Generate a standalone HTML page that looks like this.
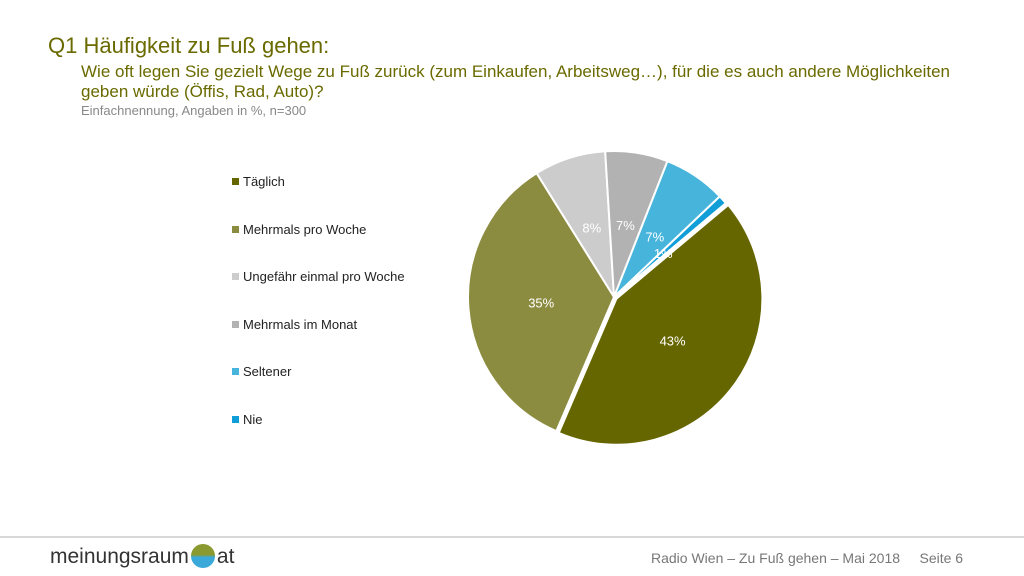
<!DOCTYPE html>
<html><head><meta charset="utf-8"><style>
body{margin:0;width:1024px;height:576px;background:#fff;font-family:"Liberation Sans",sans-serif;position:relative;overflow:hidden}
.a{position:absolute;white-space:nowrap}
.leg{position:absolute;left:232px;font-size:13px;color:#222}
.leg i{display:inline-block;width:7px;height:7px;margin-right:4px;vertical-align:1px}
</style></head><body>
<div class="a" style="left:48px;top:33px;font-size:22px;color:#6a6a00">Q1 Häufigkeit zu Fuß gehen:</div>
<div class="a" style="left:81px;top:62px;font-size:17px;color:#6a6a00;line-height:20px;white-space:normal;width:885px">Wie oft legen Sie gezielt Wege zu Fuß zurück (zum Einkaufen, Arbeitsweg…), für die es auch andere Möglichkeiten geben würde (Öffis, Rad, Auto)?</div>
<div class="a" style="left:81px;top:103px;font-size:13px;color:#888">Einfachnennung, Angaben in %, n=300</div>
<div id="legend"></div>
<svg id="pie" width="1024" height="576" style="position:absolute;left:0;top:0"></svg>
<div class="a" style="left:0;top:536px;width:1024px;height:2px;background:#d8d8d8"></div>
<div class="a" style="left:50px;top:544px;font-size:21px;color:#333">meinungsraum<span style="display:inline-block;width:24px;height:24px;border-radius:50%;background:linear-gradient(#8a9a30 45%,#3aa8d8 55%);vertical-align:-5px;margin:0 2px"></span>at</div>
<div class="a" style="left:651px;top:550px;font-size:14px;color:#777">Radio Wien – Zu Fuß gehen – Mai 2018&nbsp;&nbsp;&nbsp;&nbsp;&nbsp;Seite 6</div>
<script>
const categories=["Täglich","Mehrmals pro Woche","Ungefähr einmal pro Woche","Mehrmals im Monat","Seltener","Nie"];
const values=[43,35,8,7,7,1];
const colors=["#666600","#8c8c40","#cccccc","#b2b2b2","#47b4dc","#109ed8"];
const labels=["43%","35%","8%","7%","7%","1%"];
const svg=document.getElementById('pie');const NS="http://www.w3.org/2000/svg";
const leg=document.getElementById('legend');
categories.forEach((c,i)=>{const d=document.createElement('div');d.className='leg';d.style.top=(174+i*47.5)+'px';


d.innerHTML='<i style="background:'+colors[i]+'"></i>'+c;leg.appendChild(d);});
const cx=614,cy=297,r=146,total=values.reduce((a,b)=>a+b,0);let ang=50;
function pt(a,rr,ox,oy){const t=a*Math.PI/180;return [cx+ox+rr*Math.sin(t),cy+oy-rr*Math.cos(t)];}
values.forEach((v,i)=>{const sw=v/total*360;const a0=ang,a1=ang+sw;ang=a1;
const mid=(a0+a1)/2;const off=i==0?3:0;const ox=off*Math.sin(mid*Math.PI/180),oy=-off*Math.cos(mid*Math.PI/180);
const p0=pt(a0,r,ox,oy),p1=pt(a1,r,ox,oy);
const p=document.createElementNS(NS,'path');
p.setAttribute('d',`M${cx+ox},${cy+oy}L${p0[0]},${p0[1]}A${r},${r} 0 ${sw>180?1:0} 1 ${p1[0]},${p1[1]}Z`);
p.setAttribute('fill',colors[i]);p.setAttribute('stroke','#fff');p.setAttribute('stroke-width','2');


svg.appendChild(p);
const lr=i==5?66:73;const lp=pt(mid,lr,0,0);
const t=document.createElementNS(NS,'text');t.setAttribute('x',lp[0]);t.setAttribute('y',lp[1]+5);
t.setAttribute('text-anchor','middle');t.setAttribute('fill','#fff');t.setAttribute('font-size','13');
t.setAttribute('font-family','Liberation Sans, sans-serif');t.textContent=labels[i];


svg.appendChild(t);});
</script>
</body></html>
